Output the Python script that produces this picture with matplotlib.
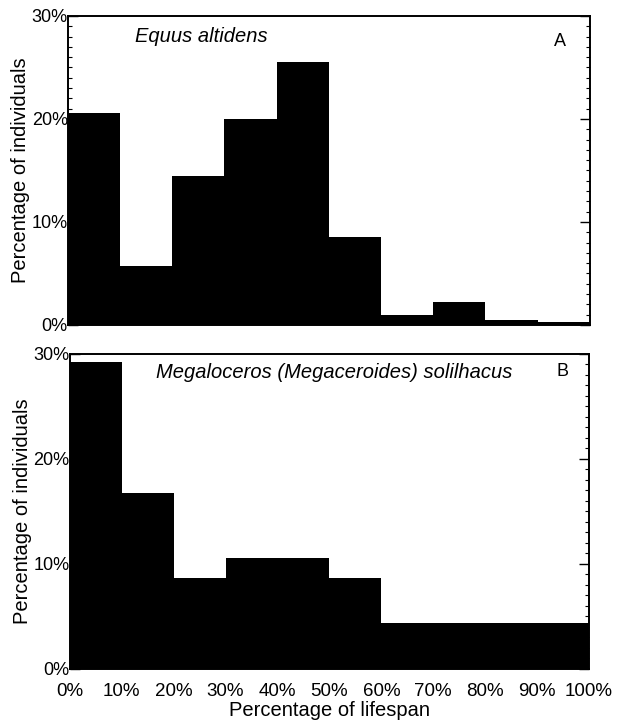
import matplotlib
matplotlib.use("Agg")
import matplotlib.pyplot as plt
from matplotlib.ticker import MultipleLocator, FuncFormatter

plt.rcParams['font.family'] = ['Liberation Sans', 'DejaVu Sans']

# Age classes (percentage of lifespan), 10% bins
bin_starts = [0, 10, 20, 30, 40, 50, 60, 70, 80, 90]
x_tick_labels = ["0%", "10%", "20%", "30%", "40%", "50%", "60%", "70%", "80%", "90%", "100%"]

# Percentage of individuals in each age class
equus_values = [20.6, 5.7, 14.5, 20.0, 25.5, 8.5, 1.0, 2.2, 0.5, 0.3]
megaloceros_values = [29.2, 16.8, 8.7, 10.6, 10.6, 8.7, 4.4, 4.4, 4.4, 4.4]

y_ticks = [0, 10, 20, 30]

fig = plt.figure(figsize=(6.28, 7.23), dpi=100)
ax_a = fig.add_axes([0.108, 0.5505, 0.831, 0.4275])
ax_b = fig.add_axes([0.111, 0.0747, 0.827, 0.4357])

pct = FuncFormatter(lambda v, p: f"{v:.0f}%")


def style(ax, values, title, title_xy, letter, letter_xy, show_x):
    ax.bar(bin_starts, values, width=10, align='edge', color='black',
           edgecolor='black', linewidth=0)
    ax.set_xlim(0, 100)
    ax.set_ylim(0, 30)
    ax.set_yticks(y_ticks)
    ax.yaxis.set_major_formatter(pct)
    ax.yaxis.set_minor_locator(MultipleLocator(1))
    ax.tick_params(axis='y', which='both', direction='in', left=True, right=True,
                   labelsize=13, pad=0)
    ax.tick_params(axis='y', which='major', length=7, width=1)
    ax.tick_params(axis='y', which='minor', length=3, width=0.8)
    ax.set_xticks(list(range(0, 101, 10)))
    if show_x:
        ax.set_xticklabels(x_tick_labels)
        ax.tick_params(axis='x', direction='in', length=0, labelsize=13.5, pad=10)
        ax.set_xlabel("Percentage of lifespan", fontsize=14.5, labelpad=1)
    else:
        ax.set_xticklabels([])
        ax.tick_params(axis='x', length=0)
    for s in ax.spines.values():
        s.set_linewidth(1.4)
    ax.set_ylabel("Percentage of individuals", fontsize=14.5, labelpad=1)
    ax.text(title_xy[0], title_xy[1], title, transform=ax.transAxes, ha='center',
            va='center', fontsize=14.5, style='italic')
    ax.text(letter_xy[0], letter_xy[1], letter, transform=ax.transAxes,
            ha='center', va='center', fontsize=13)


style(ax_a, equus_values, "Equus altidens", (0.255, 0.932), "A", (0.943, 0.916), False)
style(ax_b, megaloceros_values, "Megaloceros (Megaceroides) solilhacus", (0.509, 0.94),
      "B", (0.948, 0.943), True)

fig.savefig("out.png", dpi=100)
